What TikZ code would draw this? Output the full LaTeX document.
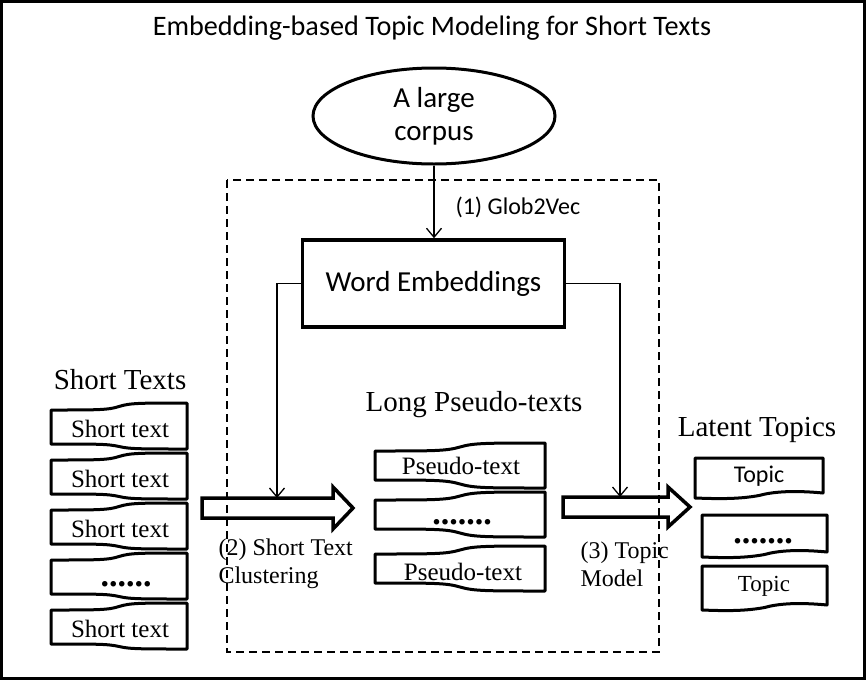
\documentclass[tikz,border=0pt]{standalone}
\usepackage{fontspec}
\setmainfont{Liberation Serif}
\newfontfamily\calfont{Carlito}
\usetikzlibrary{shapes.geometric,arrows.meta}
\newcommand\tapeshape[6]{% x0 y0 w dtop bottomleft bottomright
  \draw[docline] ({#1},{#2+#4}) .. controls ({#1+0.35*#3},{#2+#4}) and ({#1+0.42*#3},{#2+#4}) .. ({#1+0.5*#3},{#2+0.5*#4})
    .. controls ({#1+0.58*#3},{#2}) and ({#1+0.65*#3},{#2}) .. ({#1+#3},{#2})
    -- ({#1+#3},{#2+#6}) .. controls ({#1+0.65*#3},{#2+#6}) and ({#1+0.58*#3},{#2+#6}) .. ({#1+0.5*#3},{#2+0.5*#5+0.5*#6})
    .. controls ({#1+0.42*#3},{#2+#5}) and ({#1+0.35*#3},{#2+#5}) .. ({#1},{#2+#5}) -- cycle;}
\newcommand\docshape[5]{% x0 y0 w bottomleft bottomright
  \draw[docline] ({#1},{#2}) -- ({#1+#3},{#2}) -- ({#1+#3},{#2+#5})
    .. controls ({#1+0.75*#3},{#2+#5-3}) and ({#1+0.6*#3},{#2+#5-1}) .. ({#1+0.5*#3},{#2+0.5*#4+0.5*#5})
    .. controls ({#1+0.35*#3},{#2+#4+1}) and ({#1+0.2*#3},{#2+#4+1}) .. ({#1},{#2+#4}) -- cycle;}
\newcommand\bigarr[6]{% tailx y shafthalf headbasex headhalf tipx
  \draw[bigline] ({#1},{#2-#3}) -- ({#4},{#2-#3}) -- ({#4},{#2-#5}) -- ({#6},{#2}) -- ({#4},{#2+#5}) -- ({#4},{#2+#3}) -- ({#1},{#2+#3}) -- cycle;}
\tikzset{
  docline/.style={line width=3pt, line join=round},
  bigline/.style={line width=3.5pt, line join=miter},
  conn/.style={line width=1.3pt, -{Straight Barb[length=9pt,width=15pt]}},
  calbig/.style={font=\calfont\fontsize{29}{33}\selectfont},
  head/.style={font=\fontsize{29}{32}\selectfont},
  doctext/.style={font=\fontsize{25}{28}\selectfont},
  lab/.style={font=\fontsize{24}{28}\selectfont, align=left, anchor=west},
  dots/.style={font=\bfseries\fontsize{34}{40}\selectfont, inner sep=0pt}
}
\begin{document}
\begin{tikzpicture}[x=1pt,y=-1pt]
\useasboundingbox (0,0) rectangle (866,680);
\draw[line width=3pt] (1.5,1.5) rectangle (864.5,678.5);
\node[font=\calfont\fontsize{28.2}{33}\selectfont] (title) at (432,28) {Embedding-based Topic Modeling for Short Texts};
\node[draw, ellipse, line width=3pt, minimum width=242pt, minimum height=96pt, inner sep=0pt, align=center, calbig] (corpus) at (434,116) {A large\\corpus};
\draw[line width=2.2pt, dash pattern=on 8pt off 5pt] (227,180) rectangle (659,652);
\node[draw, line width=3.5pt, minimum width=262pt, minimum height=87pt, calbig] (we) at (433.5,283.5) {Word Embeddings};
\draw[conn] (corpus.south) -- (corpus.south |- we.north);
\node[anchor=west, font=\calfont\fontsize{24}{28}\selectfont] (l1) at (452,207) {(1) Glob2Vec};
% big arrows
\bigarr{202}{508}{10}{333}{21}{353}
\bigarr{563}{507}{10}{668}{20}{690}
\coordinate (lt) at (277,498);
\coordinate (rt) at (620,497);
\draw[conn] (we.west) -| (lt);
\draw[conn] (we.east) -| (rt);
\node[lab] (l2) at (215,564) {(2) Short Text\\Clustering};
\node[lab] (l3) at (577,564) {(3) Topic\\Model};
% headings
\node[head] (hS) at (120,380) {Short Texts};
\node[head] (hP) at (474,405) {Long Pseudo-texts};
\node[head] (hT) at (757,430) {Latent Topics};
% short texts
\tapeshape{51}{403}{136}{7}{41}{46}
\tapeshape{51}{453}{136}{7}{41}{46}
\tapeshape{51}{503}{136}{7}{41}{46}
\tapeshape{51}{553}{136}{7}{41}{46}
\tapeshape{51}{603}{136}{7}{41}{46}
\node[doctext] (s1) at (120,429) {Short text};
\node[doctext] (s2) at (120,479) {Short text};
\node[doctext] (s3) at (120,529) {Short text};
\node[dots] (s4) at (126,584) {......};
\node[doctext] (s5) at (120,629) {Short text};
% pseudo texts
\tapeshape{375}{443}{170}{8}{37}{45}
\tapeshape{375}{492}{170}{8}{37}{45}
\tapeshape{375}{546}{170}{8}{37}{45}
\node[doctext] (p1) at (461,466) {Pseudo-text};
\node[dots] (p2) at (462,522) {.......};
\node[doctext] (p3) at (463,572) {Pseudo-text};
% topics
\docshape{695}{458}{128}{40}{35}
\docshape{702}{515}{125}{42}{37}
\docshape{702}{566}{125}{44}{39}
\node[font=\calfont\fontsize{24}{28}\selectfont] (t1) at (759,476) {Topic};
\node[dots] (t2) at (763,541) {.......};
\node[font=\fontsize{23}{28}\selectfont] (t3) at (764,586) {Topic};
\end{tikzpicture}
\end{document}
